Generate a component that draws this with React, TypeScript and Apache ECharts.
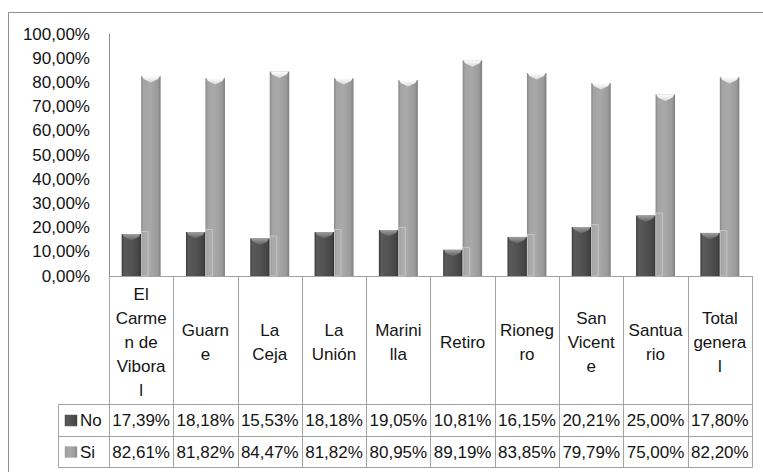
import React, { useEffect, useRef } from "react";
import * as echarts from "echarts";

const categories = [
  "El Carmen de Viboral",
  "Guarne",
  "La Ceja",
  "La Unión",
  "Marinilla",
  "Retiro",
  "Rionegro",
  "San Vicente",
  "Santuario",
  "Total general",
];
// wrapped as shown in the data-table header cells
const categoryLabels = [
  "El\nCarme\nn de\nVibora\nl",
  "Guarn\ne",
  "La\nCeja",
  "La\nUnión",
  "Marini\nlla",
  "Retiro",
  "Rioneg\nro",
  "San\nVicent\ne",
  "Santua\nrio",
  "Total\ngenera\nl",
];
const seriesNames = ["No", "Si"];
const noValues = [17.39, 18.18, 15.53, 18.18, 19.05, 10.81, 16.15, 20.21, 25.0, 17.8];
const siValues = [82.61, 81.82, 84.47, 81.82, 80.95, 89.19, 83.85, 79.79, 75.0, 82.2];
const yMin = 0;
const yMax = 100;
const yInterval = 10;

const FONT = "Liberation Sans, Arial, sans-serif";
const TXT = "#141414";
const LINE = "#a3a3a3";

const fmt = (v: number) => v.toFixed(2).replace(".", ",") + "%";

const darkGrad = {
  type: "linear", x: 0, y: 0, x2: 1, y2: 0,
  colorStops: [
    { offset: 0, color: "#3a3a3a" },
    { offset: 0.12, color: "#5a5a5a" },
    { offset: 0.5, color: "#525252" },
    { offset: 0.88, color: "#454545" },
    { offset: 1, color: "#313131" },
  ],
};
const lightGrad = {
  type: "linear", x: 0, y: 0, x2: 1, y2: 0,
  colorStops: [
    { offset: 0, color: "#868686" },
    { offset: 0.12, color: "#a4a4a4" },
    { offset: 0.45, color: "#a9a9a9" },
    { offset: 0.85, color: "#9a9a9a" },
    { offset: 1, color: "#7d7d7d" },
  ],
};
const darkBevel = {
  type: "linear", x: 0, y: 0, x2: 0, y2: 1,
  colorStops: [
    { offset: 0, color: "#a0a0a0" },
    { offset: 1, color: "#606060" },
  ],
};
const lightBevel = {
  type: "linear", x: 0, y: 0, x2: 0, y2: 1,
  colorStops: [
    { offset: 0, color: "#ffffff" },
    { offset: 1, color: "#dadada" },
  ],
};

function makeRender(side: number) {
  return (params: any, api: any) => {
    const i = api.value(0);
    const v = api.value(1);
    const base = api.coord([i, 0]);
    const top = api.coord([i, v]);
    const band = api.size([1, 0])[0];
    const bw = band * 0.303;
    const x = side === 0 ? base[0] - bw : base[0];
    const t = top[1];
    const h = base[1] - t;
    const children: any[] = [
      {
        type: "rect",
        shape: { x, y: t, width: bw, height: h },
        style: { fill: side === 0 ? darkGrad : lightGrad },
      },
      {
        type: "polygon",
        shape: {
          points: [
            [x + 0.8, t],
            [x + bw - 0.8, t],
            [x + bw - 2.5, t + 3],
            [x + bw / 2, t + 6.5],
            [x + 2.5, t + 3],
          ],
        },
        style: { fill: side === 0 ? darkBevel : lightBevel },
      },
    ];
    if (side === 0) {
      // faint depth outline of the dark bar, seen through the light bar
      children.push({
        type: "rect",
        z2: 50,
        shape: { x: base[0] + 0.5, y: t - 2.5, width: 6.5, height: h + 2.5 },
        style: { fill: "rgba(255,255,255,0.06)", stroke: "#c4c4c4", lineWidth: 1 },
      });
    }
    return { type: "group", children };
  };
}

export default function App() {
  const ref = useRef<HTMLDivElement>(null);

  useEffect(() => {
    if (!ref.current) return;
    const chart = echarts.init(ref.current, null, { renderer: "svg" });
    chart.setOption({
      animation: false,
      backgroundColor: "#ffffff",
      grid: { left: 109, right: 11, top: 34, bottom: 196 },
      xAxis: {
        type: "category",
        data: categories,
        axisLine: { show: true, lineStyle: { color: LINE, width: 1 } },
        axisTick: { show: false },
        axisLabel: { show: false },
        splitLine: { show: false },
      },
      yAxis: {
        type: "value",
        min: yMin,
        max: yMax,
        interval: yInterval,
        axisLine: { show: true, lineStyle: { color: "#8e8e8e", width: 1 } },
        axisTick: { show: false },
        splitLine: { show: false },
        axisLabel: {
          margin: 19,
          color: TXT,
          fontFamily: FONT,
          fontSize: 17,
          formatter: (v: number) => fmt(v),
        },
      },
      series: [
        {
          name: seriesNames[0],
          type: "custom",
          renderItem: makeRender(0),
          encode: { x: 0, y: 1 },
          data: noValues.map((v, i) => [i, v]),
        },
        {
          name: seriesNames[1],
          type: "custom",
          renderItem: makeRender(1),
          encode: { x: 0, y: 1 },
          data: siValues.map((v, i) => [i, v]),
        },
      ],
    });

    // Data table drawn beneath the axis, positioned through the axis scales
    const centers = categories.map((_, i) => chart.convertToPixel({ xAxisIndex: 0 }, i) as number);
    const half = (centers[1] - centers[0]) / 2;
    const y0 = chart.convertToPixel({ yAxisIndex: 0 }, 0) as number;
    const rowTop1 = 404.5;
    const rowTop2 = 436.5;
    const rowBot = 467.5;
    const legendLeft = 58.5;
    const snap = (n: number) => Math.round(n) + 0.5;
    const bounds = [centers[0] - half, ...centers.map((c) => c + half)].map(snap);
    const g: any[] = [];
    const line = (x1: number, y1: number, x2: number, y2: number) =>
      g.push({
        type: "line",
        silent: true,
        shape: { x1, y1, x2, y2 },
        style: { stroke: LINE, lineWidth: 1 },
      });
    bounds.forEach((bx) => line(bx, snap(y0) - 0.5, bx, rowBot));
    line(legendLeft, rowTop1, bounds[bounds.length - 1], rowTop1);
    line(legendLeft, rowTop2, bounds[bounds.length - 1], rowTop2);
    line(legendLeft, rowBot, bounds[bounds.length - 1], rowBot);
    line(legendLeft, rowTop1, legendLeft, rowBot);

    const txt = (text: string, x: number, y: number, align = "center", lh = 24) =>
      g.push({
        type: "text",
        silent: true,
        style: {
          text, x, y, align, verticalAlign: "middle",
          fill: TXT, fontFamily: FONT, fontSize: 17, lineHeight: lh,
        },
      });
    const headerMid = (y0 + rowTop1) / 2 + 2;
    const noMid = (rowTop1 + rowTop2) / 2;
    const siMid = (rowTop2 + rowBot) / 2;
    centers.forEach((c, i) => {
      txt(categoryLabels[i], c, headerMid);
      txt(fmt(noValues[i]), c, noMid);
      txt(fmt(siValues[i]), c, siMid);
    });
    // legend keys inside the table
    g.push({
      type: "rect", silent: true,
      shape: { x: 65, y: noMid - 5.5, width: 12, height: 11 },
      style: { fill: darkGrad, stroke: "#5a5a5a", lineWidth: 0.5 },
    });
    g.push({
      type: "rect", silent: true,
      shape: { x: 65, y: siMid - 5.5, width: 12, height: 11 },
      style: { fill: lightGrad, stroke: "#b0b0b0", lineWidth: 0.5 },
    });
    txt(seriesNames[0], 80, noMid, "left");
    txt(seriesNames[1], 80, siMid, "left");
    // outer chart border
    g.push({
      type: "rect", silent: true,
      shape: { x: 8.5, y: 12.5, width: 800, height: 500 },
      style: { fill: "none", stroke: "#8e8e8e", lineWidth: 1 },
    });
    chart.setOption({ graphic: g });

    return () => chart.dispose();
  }, []);

  return (
    <div
      ref={ref}
      style={{ position: "fixed", left: 0, top: 0, width: 763, height: 472, background: "#fff" }}
    />
  );
}
